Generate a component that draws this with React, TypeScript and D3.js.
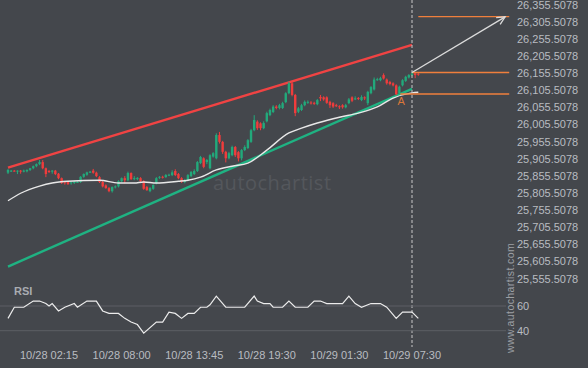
import React from 'react';
import * as d3 from 'd3';

// candles: [open, high, low, close], 15 min bars
const ohlc: number[][] = [
  [25865, 25876, 25861, 25873], [25871, 25873, 25867, 25871], [25871, 25873, 25868, 25870], [25870, 25872, 25861, 25871],
  [25871, 25873, 25862, 25870], [25870, 25874, 25866, 25871], [25869, 25875, 25866, 25873], [25873, 25879, 25870, 25878],
  [25878, 25886, 25875, 25884], [25884, 25892, 25881, 25890], [25890, 25902, 25887, 25896], [25896, 25902, 25875, 25878],
  [25878, 25880, 25852, 25861], [25870, 25873, 25864, 25867], [25871, 25873, 25862, 25871], [25871, 25873, 25858, 25861],
  [25862, 25864, 25846, 25849], [25849, 25851, 25832, 25835], [25837, 25840, 25830, 25835], [25838, 25841, 25829, 25832],
  [25834, 25838, 25830, 25837], [25835, 25841, 25832, 25839], [25838, 25841, 25835, 25838], [25838, 25855, 25835, 25853],
  [25853, 25863, 25850, 25861], [25859, 25868, 25856, 25866], [25867, 25870, 25864, 25868], [25871, 25876, 25862, 25865],
  [25865, 25868, 25852, 25855], [25852, 25855, 25835, 25838], [25838, 25841, 25822, 25825], [25828, 25831, 25818, 25820],
  [25820, 25823, 25808, 25811], [25811, 25825, 25807, 25823], [25823, 25828, 25819, 25825], [25825, 25843, 25822, 25840],
  [25840, 25851, 25837, 25849], [25849, 25855, 25834, 25843], [25843, 25868, 25840, 25864], [25864, 25866, 25844, 25846],
  [25846, 25855, 25843, 25849], [25846, 25852, 25843, 25850], [25849, 25852, 25838, 25840], [25840, 25843, 25815, 25818],
  [25823, 25826, 25812, 25814], [25811, 25823, 25808, 25820], [25818, 25831, 25815, 25829], [25834, 25852, 25831, 25849],
  [25851, 25855, 25847, 25853], [25853, 25856, 25848, 25852], [25852, 25861, 25850, 25858], [25858, 25862, 25855, 25859],
  [25858, 25872, 25855, 25866], [25870, 25875, 25855, 25858], [25861, 25864, 25846, 25849], [25849, 25852, 25835, 25838],
  [25838, 25847, 25834, 25843], [25843, 25861, 25840, 25858], [25855, 25870, 25852, 25867], [25861, 25875, 25858, 25870],
  [25870, 25899, 25867, 25896], [25893, 25914, 25890, 25911], [25907, 25910, 25878, 25882], [25896, 25905, 25890, 25902],
  [25878, 25919, 25875, 25916], [25912, 25925, 25909, 25922], [25907, 25980, 25904, 25975], [25975, 25984, 25950, 25955],
  [25955, 25958, 25920, 25926], [25926, 25929, 25895, 25907], [25907, 25926, 25904, 25922], [25916, 25944, 25913, 25940],
  [25940, 25943, 25911, 25916], [25925, 25928, 25898, 25907], [25907, 25934, 25901, 25931], [25931, 25945, 25928, 25940],
  [25937, 25963, 25934, 25960], [25955, 25993, 25952, 25989], [25989, 26033, 25986, 26019], [26014, 26018, 25990, 25995],
  [26009, 26012, 25989, 25995], [25995, 26015, 25992, 26010], [26015, 26043, 26012, 26039], [26033, 26052, 26030, 26048],
  [26042, 26062, 26039, 26058], [26058, 26062, 26050, 26054], [26054, 26066, 26050, 26062], [26054, 26072, 26051, 26068],
  [26071, 26100, 26068, 26097], [26097, 26131, 26094, 26126], [26126, 26130, 26088, 26092], [26092, 26095, 26030, 26039],
  [26043, 26057, 26039, 26053], [26048, 26066, 26045, 26062], [26062, 26076, 26059, 26072], [26071, 26076, 26066, 26072],
  [26070, 26074, 26064, 26069], [26069, 26072, 26063, 26068], [26065, 26080, 26062, 26077], [26086, 26092, 26074, 26082],
  [26085, 26088, 26075, 26079], [26085, 26088, 26066, 26069], [26072, 26075, 26054, 26062], [26068, 26071, 26054, 26058],
  [26062, 26066, 26057, 26061], [26059, 26062, 26051, 26057], [26062, 26065, 26052, 26056], [26056, 26066, 26053, 26062],
  [26068, 26083, 26065, 26079], [26085, 26088, 26071, 26075], [26080, 26088, 26077, 26082], [26083, 26086, 26077, 26081],
  [26077, 26091, 26074, 26086], [26085, 26088, 26077, 26082], [26068, 26104, 26062, 26101], [26097, 26118, 26094, 26115],
  [26108, 26143, 26105, 26137], [26137, 26142, 26133, 26138], [26135, 26145, 26132, 26141], [26150, 26155, 26137, 26140],
  [26137, 26140, 26122, 26126], [26130, 26133, 26120, 26124], [26126, 26129, 26117, 26120], [26120, 26123, 26091, 26094],
  [26097, 26119, 26094, 26116], [26120, 26138, 26117, 26135], [26133, 26148, 26130, 26145], [26143, 26153, 26140, 26150],
  [26150, 26158, 26147, 26155], [26155, 26158, 26141, 26150], [26154, 26156, 26148, 26152],
];

// moving average read at a few bars
const maIdx = [0, 4, 10, 14, 19, 29, 35, 40, 43, 47, 54, 57, 61, 66, 71, 76, 82, 89, 93, 98, 105, 111, 117, 122, 128, 130];
const maVal = [25783, 25805, 25826, 25835, 25840, 25843, 25835, 25835, 25838, 25835, 25840, 25843, 25852, 25873, 25884,
  25893, 25931, 25981, 25995, 26010, 26027, 26039, 26057, 26083, 26098, 26100];

// RSI
const rsiIdx = [0, 2, 5, 8, 10, 12, 13, 14, 16, 18, 21, 22, 25, 28, 30, 32, 35, 37, 39, 41, 43, 47, 49, 51, 53, 55, 57, 59,
  61, 63, 64, 66, 69, 75, 78, 79, 81, 83, 84, 87, 89, 91, 95, 97, 99, 101, 106, 108, 110, 112, 115, 118, 120, 123, 125, 128, 130];
const rsiVal = [50, 59, 59, 64, 64, 62, 60, 62, 56, 59, 62, 59, 64, 64, 56, 54, 54, 50, 47, 45, 38, 47, 47, 55, 54, 50, 54, 54,
  59, 59, 61, 68, 59, 59, 68, 64, 62, 62, 59, 59, 64, 59, 59, 64, 64, 62, 62, 68, 62, 59, 62, 62, 59, 50, 55, 55, 50];

// pattern lines: [startBar, startPrice, endBar, endPrice]
const resistance = [0, 25880, 128, 26238];
const support = [0, 25591, 128, 26110];
const forecast = [128, 26157.5, 157.5, 26320];
const levels = [26320.5, 26157.5, 26094.8];
const levelStart = [130, 128, 124.3];
const levelEnd = 158.8;
const pointA = [124.6, 26075];
const nowBar = 128;

const priceTicks = [26355.5078, 26305.5078, 26255.5078, 26205.5078, 26155.5078, 26105.5078, 26055.5078, 26005.5078,
  25955.5078, 25905.5078, 25855.5078, 25805.5078, 25755.5078, 25705.5078, 25655.5078, 25605.5078, 25555.5078];
const rsiTicks = [60, 40];
const timeIdx = [13, 36, 59, 82, 105, 128];
const timeLabels = ['10/28 02:15', '10/28 08:00', '10/28 13:45', '10/28 19:30', '10/29 01:30', '10/29 07:30'];

const BG = '#44474c';
const TXT = '#b9bcc1';
const UP = '#22a97b';
const DOWN = '#f03c3c';
const ORANGE = '#f07f3c';
const FONT = '"Liberation Sans", Arial, sans-serif';

export default function App() {
  const x = d3.scaleLinear().domain([0, 128]).range([8, 412]);
  const y = d3.scaleLinear().domain([25555.5078, 26355.5078]).range([278.7, 4.7]);
  const yr = d3.scaleLinear().domain([40, 60]).range([330.7, 306]);
  const fmt = d3.format(',.4f');

  const maLine = d3.line<number>().x((_, i) => x(maIdx[i])).y(d => y(d)).curve(d3.curveMonotoneX);
  const rsiLine = d3.line<number>().x((_, i) => x(rsiIdx[i])).y(d => yr(d));

  // arrow head
  const ax1 = x(forecast[0]), ay1 = y(forecast[1]);
  const ax2 = x(forecast[2]), ay2 = y(forecast[3]);
  const ang = Math.atan2(ay2 - ay1, ax2 - ax1);
  const head = [ang + Math.PI - 0.45, ang + Math.PI + 0.45].map(a => [ax2 + 9 * Math.cos(a), ay2 + 9 * Math.sin(a)]);

  return (
    <>
      <style>{`body{margin:0;background:${BG}}`}</style>
      <svg width={588} height={368} style={{ display: 'block', background: BG, fontFamily: FONT }}>
        {/* watermark */}
        <text x={213} y={190} fontSize={20} fill="#54575c" fontFamily='"Open Sans", sans-serif' letterSpacing={0.5}>autochartist</text>
        <text transform="translate(514,298) rotate(-90)" textAnchor="middle" fontSize={10.5} fill="#9c9fa4" letterSpacing={0.4}>www.autochartist.com</text>

        {/* price axis */}
        {priceTicks.map(t => (
          <text key={t} x={517} y={y(t)} dy="0.35em" fontSize={11} fill={TXT}>{fmt(t)}</text>
        ))}

        {/* trend lines */}
        <line x1={x(resistance[0])} y1={y(resistance[1])} x2={x(resistance[2])} y2={y(resistance[3])} stroke="#f04343" strokeWidth={2.4} />
        <line x1={x(support[0])} y1={y(support[1])} x2={x(support[2])} y2={y(support[3])} stroke="#1fb282" strokeWidth={2.4} />

        {/* candles */}
        {ohlc.map(([o, h, l, c], i) => {
          const col = c >= o ? UP : DOWN;
          const cx = x(i);
          const top = y(Math.max(o, c));
          const bh = Math.max(1, y(Math.min(o, c)) - top);
          return (
            <g key={i}>
              <line x1={cx} x2={cx} y1={y(h)} y2={y(l)} stroke={col} strokeWidth={1} />
              <rect x={cx - 1.2} y={top} width={2.4} height={bh} fill={col} />
            </g>
          );
        })}

        {/* moving average */}
        <path d={maLine(maVal) || ''} fill="none" stroke="#e8e8e8" strokeWidth={1.4} />

        {/* levels */}
        {levels.map((p, i) => (
          <line key={p} x1={x(levelStart[i])} x2={x(levelEnd)} y1={y(p)} y2={y(p)} stroke={ORANGE} strokeWidth={1.3} />
        ))}
        <text x={x(pointA[0])} y={y(pointA[1])} dy="0.35em" textAnchor="middle" fontSize={11} fill="#d9773a">A</text>

        {/* forecast arrow */}
        <line x1={ax1} y1={ay1} x2={ax2} y2={ay2} stroke="#dcdcdc" strokeWidth={1.3} />
        <polyline points={`${head[0][0]},${head[0][1]} ${ax2},${ay2} ${head[1][0]},${head[1][1]}`} fill="none" stroke="#dcdcdc" strokeWidth={1.3} />

        {/* now line */}
        <line x1={x(nowBar)} x2={x(nowBar)} y1={0} y2={347} stroke="#c9c9c9" strokeWidth={1} strokeDasharray="3,2" />

        {/* RSI panel */}
        {rsiTicks.map(t => (
          <g key={t}>
            <line x1={0} x2={506} y1={yr(t)} y2={yr(t)} stroke="#5c5f64" strokeWidth={1} />
            <text x={517} y={yr(t)} dy="0.35em" fontSize={11} fill={TXT}>{t}</text>
          </g>
        ))}
        <text x={14} y={295} fontSize={11} fontWeight="bold" fill="#a9acb1">RSI</text>
        <path d={rsiLine(rsiVal) || ''} fill="none" stroke="#ececec" strokeWidth={1.2} />

        {/* time axis */}
        {timeIdx.map((t, i) => (
          <text key={t} x={x(t)} y={359} textAnchor="middle" fontSize={11} fill={TXT}>{timeLabels[i]}</text>
        ))}
      </svg>
    </>
  );
}
